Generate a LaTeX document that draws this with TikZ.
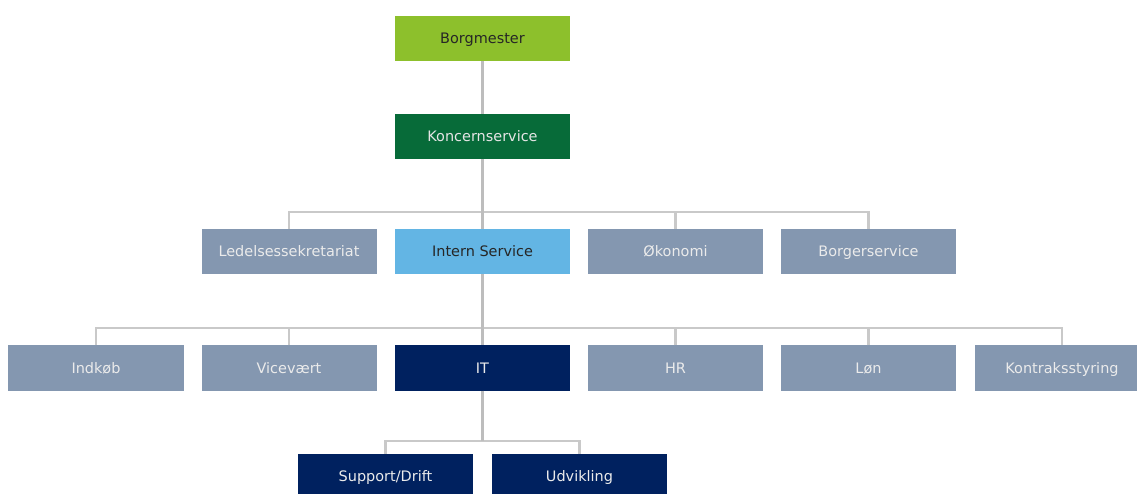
\documentclass[tikz,border=0pt]{standalone}
\usepackage{fontspec}
\setmainfont{DejaVu Sans}
\definecolor{lime}{HTML}{8DC02C}
\definecolor{dgreen}{HTML}{076B39}
\definecolor{lblue}{HTML}{63B5E4}
\definecolor{gblue}{HTML}{8497B0}
\definecolor{navy}{HTML}{00215F}
\definecolor{trunkgray}{HTML}{BDBDBD}
\definecolor{branchgray}{HTML}{C9C9C9}
\tikzset{
  x=1bp, y=-1bp,
  unit/.style={rectangle, minimum width=175bp, minimum height=45bp, inner sep=0pt,
    text height=2.2ex, text depth=0.2ex, font=\fontsize{14.5}{17}\selectfont},
  limebox/.style={unit, fill=lime, text=black!85},
  greenbox/.style={unit, fill=dgreen, text=white!90!black},
  bluebox/.style={unit, fill=lblue, text=black!85},
  graybox/.style={unit, fill=gblue, text=white!92!black},
  navybox/.style={unit, fill=navy, text=white!92!black},
  trunk/.style={draw=trunkgray, line width=3.5bp},
  branch/.style={draw=branchgray, line width=2.2bp},
}
\begin{document}
\begin{tikzpicture}
\useasboundingbox (0,0) rectangle (1137,494);
\clip (0,0) rectangle (1137,494);
\fill[white] (0,0) rectangle (1137,494);
% coordinates of bars
\coordinate (bar2) at (482.5,212);
\coordinate (bar3) at (482.5,328);
\coordinate (bar4) at (482.5,441);
% nodes
\node[limebox]  (borg) at (482.5,38.5) {Borgmester};
\node[greenbox] (konc) at (482.5,136.5) {Koncernservice};
\node[graybox]  (led)  at (289,251.5) {Ledelsessekretariat};
\node[bluebox]  (int)  at (482.5,251.5) {Intern Service};
\node[graybox]  (oek)  at (675.5,251.5) {Økonomi};
\node[graybox]  (bsv)  at (868.5,251.5) {Borgerservice};
\node[graybox]  (ind)  at (96,368) {Indkøb};
\node[graybox]  (vic)  at (289,368) {Vicevært};
\node[navybox]  (it)   at (482.5,368) {IT};
\node[graybox]  (hr)   at (675.5,368) {HR};
\node[graybox]  (lon)  at (868.5,368) {Løn};
\node[graybox]  (kon)  at (1062,368) {Kontraksstyring};
\node[navybox]  (sup)  at (385.5,476.5) {Support/Drift};
\node[navybox]  (udv)  at (579.5,476.5) {Udvikling};
% connectors
\draw[branch] (led.north) |- (bar2) -| (bsv.north);
\draw[branch] (oek.north) -- (oek.north |- bar2);
\draw[branch] (ind.north) |- (bar3) -| (kon.north);
\draw[branch] (vic.north) -- (vic.north |- bar3);
\draw[branch] (hr.north) -- (hr.north |- bar3);
\draw[branch] (lon.north) -- (lon.north |- bar3);
\draw[branch] (sup.north) |- (bar4) -| (udv.north);
\draw[trunk] (borg.south) -- (konc.north);
\draw[trunk] (konc.south) -- (int.north);
\draw[trunk] (int.south) -- (it.north);
\draw[trunk] (it.south) -- (bar4);
\end{tikzpicture}
\end{document}
